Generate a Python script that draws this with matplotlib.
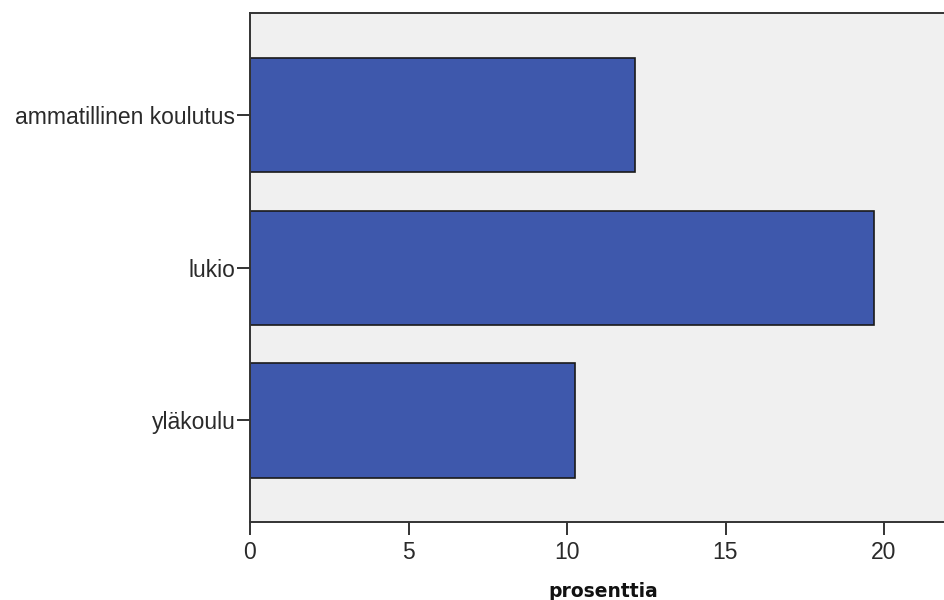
import matplotlib
matplotlib.use("Agg")
import matplotlib.pyplot as plt

categories = ["ammatillinen koulutus", "lukio", "yläkoulu"]
values = [12.15, 19.68, 10.26]
xticks = [0, 5, 10, 15, 20]

plt.rcParams['font.family'] = ['Liberation Sans', 'DejaVu Sans']

W, H = 945, 600
fig = plt.figure(figsize=(W / 100, H / 100), dpi=100)
left, right, top, bottom = 250, 947.4, 13.3, 522.3
ax = fig.add_axes([left / W, 1 - bottom / H, (right - left) / W, (bottom - top) / H])
ax.set_facecolor('#F0F0F0')

pos = list(range(len(categories)))
ax.barh(pos, values, height=0.75, color='#3E58AC', edgecolor='#1a1a1a', linewidth=1.2, zorder=2)
ax.set_yticks(pos)
ax.set_yticklabels(categories)
ax.set_ylim(len(categories) - 1 + 0.667, -0.667)
ax.set_xlim(0, 22)
ax.set_xticks(xticks)
ax.set_xticklabels([str(t) for t in xticks])

for s in ['left', 'bottom', 'top', 'right']:
    ax.spines[s].set_linewidth(1.4)
    ax.spines[s].set_color('#333333')

ax.tick_params(axis='both', direction='out', length=9.5, width=1.4, color='#333333',
               labelsize=16.5, labelcolor='#2a2a2a')
ax.tick_params(axis='y', pad=1)
ax.tick_params(axis='x', pad=4)

ax.set_xlabel('prosenttia', fontsize=13.5, fontweight='bold', color='#111111',
              family=['DejaVu Sans'])
ax.xaxis.set_label_coords(0.506, -0.118)

fig.savefig('out.png', dpi=100)
